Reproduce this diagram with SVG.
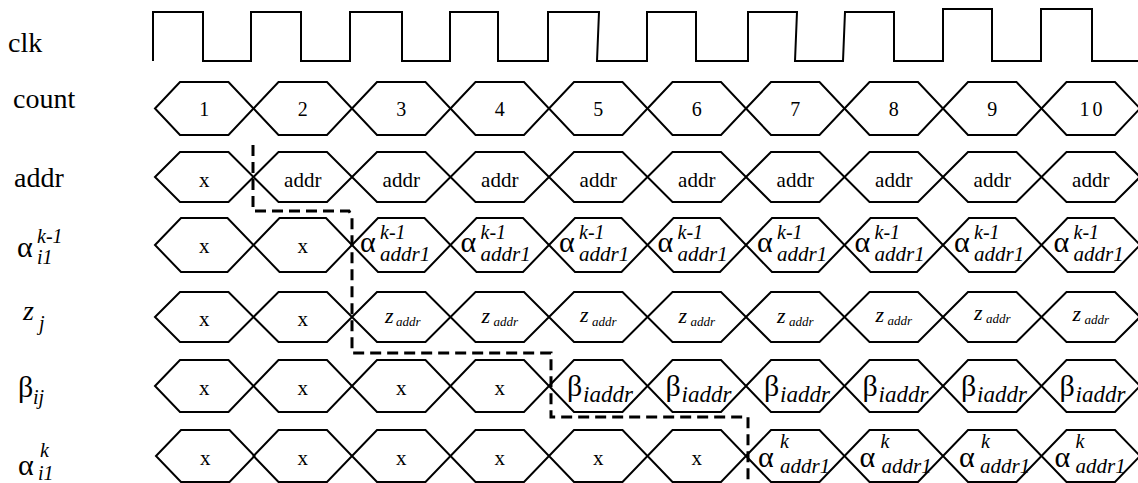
<svg xmlns="http://www.w3.org/2000/svg" xmlns:xlink="http://www.w3.org/1999/xlink" width="1138" height="483" viewBox="0 0 1138 483" font-family="Liberation Serif">
<defs>
<style>
.w{fill:none;stroke:#000;stroke-width:2}
.hex{fill:none;stroke:#000;stroke-width:2}
.dash{fill:none;stroke:#000;stroke-width:3;stroke-dasharray:11 6}
text{font-family:'Liberation Serif','Times New Roman',serif;fill:#000}
.lbl{font-size:28px}
.i{font-style:italic}
.num{font-size:20px;text-anchor:middle}
.v{font-size:21px;text-anchor:middle}
.g{font-size:30px}
.sup{font-size:20px;font-style:italic}
.sub{font-size:21px;font-style:italic}
.zs{font-size:22px;font-style:italic}
.zt{font-size:13px;font-style:italic}
.bs{font-size:23px;font-style:italic}
</style>
<polygon id="hC" class="hex" points="0,0 25,-26.5 73.5,-26.5 98.5,0 73.5,26.5 25,26.5"/>
<polygon id="hA" class="hex" points="0,0 25,-25 73.5,-25 98.5,0 73.5,25 25,25"/>
<polygon id="hK" class="hex" points="0,0 26,-27 72.5,-27 98.5,0 72.5,27 26,27"/>
<polygon id="hB" class="hex" points="0,0 25,-26 73.5,-26 98.5,0 73.5,26 25,26"/>
</defs>
<rect width="1138" height="483" fill="#fff"/>

<g id="labels">
<text class="lbl" x="8" y="52">clk</text>
<text class="lbl" x="13" y="108">count</text>
<text class="lbl" x="14" y="187">addr</text>
<g id="lbl-alpha-k1"><text class="g" x="17" y="257">α</text><text class="sup" x="37" y="243">k-1</text><text class="sup" x="37" y="264">i1</text></g>
<g id="lbl-z"><text class="lbl i" x="23" y="320">z</text><text class="sup" x="39" y="330">j</text></g>
<g id="lbl-beta"><text class="g" x="18" y="397">β</text><text class="sup" x="33" y="404">ij</text></g>
<g id="lbl-alpha-k"><text class="g" x="18" y="475">α</text><text class="sup" x="40" y="457">k</text><text class="sup" x="38" y="480">i1</text></g>
</g>

<g id="clk">
<path class="w" d="M153,61 V12 H203 V61 H251 V12 H301 V61 H350 V12 H402 V61 H450 V12 H498 V61 H548 V12 H599 L597,61 H647 V12 H696 V61 H748 V12 H797 L795,61 H843 L845,12 H894 V61 H943 V9 H992 V61 H1041 V9 H1092 V61 H1138"/>
</g>

<g id="count">
<g id="count-1" transform="translate(155,108.5)"><use xlink:href="#hC" href="#hC"/><text class="num" x="49.25" y="7.5">1</text></g>
<g id="count-2" transform="translate(253.5,108.5)"><use xlink:href="#hC" href="#hC"/><text class="num" x="49.25" y="7.5">2</text></g>
<g id="count-3" transform="translate(352,108.5)"><use xlink:href="#hC" href="#hC"/><text class="num" x="49.25" y="7.5">3</text></g>
<g id="count-4" transform="translate(450.5,108.5)"><use xlink:href="#hC" href="#hC"/><text class="num" x="49.25" y="7.5">4</text></g>
<g id="count-5" transform="translate(549,108.5)"><use xlink:href="#hC" href="#hC"/><text class="num" x="49.25" y="7.5">5</text></g>
<g id="count-6" transform="translate(647.5,108.5)"><use xlink:href="#hC" href="#hC"/><text class="num" x="49.25" y="7.5">6</text></g>
<g id="count-7" transform="translate(746,108.5)"><use xlink:href="#hC" href="#hC"/><text class="num" x="49.25" y="7.5">7</text></g>
<g id="count-8" transform="translate(844.5,108.5)"><use xlink:href="#hC" href="#hC"/><text class="num" x="49.25" y="7.5">8</text></g>
<g id="count-9" transform="translate(943,108.5)"><use xlink:href="#hC" href="#hC"/><text class="num" x="49.25" y="7.5">9</text></g>
<g id="count-10" transform="translate(1041.5,108.5)"><use xlink:href="#hC" href="#hC"/><text class="num" x="51" y="7.5" letter-spacing="3">10</text></g>
</g>

<g id="addr">
<g id="addr-1" transform="translate(155,177)"><use xlink:href="#hA" href="#hA"/><text class="v" x="49.25" y="10">x</text></g>
<g id="addr-2" transform="translate(253.5,177)"><use xlink:href="#hA" href="#hA"/><text class="v" x="49.25" y="10">addr</text></g>
<g id="addr-3" transform="translate(352,177)"><use xlink:href="#hA" href="#hA"/><text class="v" x="49.25" y="10">addr</text></g>
<g id="addr-4" transform="translate(450.5,177)"><use xlink:href="#hA" href="#hA"/><text class="v" x="49.25" y="10">addr</text></g>
<g id="addr-5" transform="translate(549,177)"><use xlink:href="#hA" href="#hA"/><text class="v" x="49.25" y="10">addr</text></g>
<g id="addr-6" transform="translate(647.5,177)"><use xlink:href="#hA" href="#hA"/><text class="v" x="49.25" y="10">addr</text></g>
<g id="addr-7" transform="translate(746,177)"><use xlink:href="#hA" href="#hA"/><text class="v" x="49.25" y="10">addr</text></g>
<g id="addr-8" transform="translate(844.5,177)"><use xlink:href="#hA" href="#hA"/><text class="v" x="49.25" y="10">addr</text></g>
<g id="addr-9" transform="translate(943,177)"><use xlink:href="#hA" href="#hA"/><text class="v" x="49.25" y="10">addr</text></g>
<g id="addr-10" transform="translate(1041.5,177)"><use xlink:href="#hA" href="#hA"/><text class="v" x="49.25" y="10">addr</text></g>
</g>

<g id="alpha-k1">
<g id="ak1-1" transform="translate(155,245)"><use xlink:href="#hK" href="#hK"/><text class="v" x="49.25" y="8">x</text></g>
<g id="ak1-2" transform="translate(253.5,245)"><use xlink:href="#hK" href="#hK"/><text class="v" x="49.25" y="8">x</text></g>
<g id="ak1-3" transform="translate(352,245)"><use xlink:href="#hK" href="#hK"/><text class="g" x="8" y="7">α</text><text class="sup" x="28" y="-6">k-1</text><text class="sub" x="28" y="16">addr1</text></g>
<g id="ak1-4" transform="translate(450.5,245)"><use xlink:href="#hK" href="#hK"/><text class="g" x="10" y="7">α</text><text class="sup" x="30" y="-6">k-1</text><text class="sub" x="30" y="16">addr1</text></g>
<g id="ak1-5" transform="translate(549,245)"><use xlink:href="#hK" href="#hK"/><text class="g" x="10" y="7">α</text><text class="sup" x="30" y="-6">k-1</text><text class="sub" x="30" y="16">addr1</text></g>
<g id="ak1-6" transform="translate(647.5,245)"><use xlink:href="#hK" href="#hK"/><text class="g" x="10" y="7">α</text><text class="sup" x="30" y="-6">k-1</text><text class="sub" x="30" y="16">addr1</text></g>
<g id="ak1-7" transform="translate(746,245)"><use xlink:href="#hK" href="#hK"/><text class="g" x="11" y="7">α</text><text class="sup" x="31" y="-6">k-1</text><text class="sub" x="31" y="16">addr1</text></g>
<g id="ak1-8" transform="translate(844.5,245)"><use xlink:href="#hK" href="#hK"/><text class="g" x="10" y="7">α</text><text class="sup" x="30" y="-6">k-1</text><text class="sub" x="30" y="16">addr1</text></g>
<g id="ak1-9" transform="translate(943,245)"><use xlink:href="#hK" href="#hK"/><text class="g" x="11" y="7">α</text><text class="sup" x="31" y="-6">k-1</text><text class="sub" x="31" y="16">addr1</text></g>
<g id="ak1-10" transform="translate(1041.5,245)"><use xlink:href="#hK" href="#hK"/><text class="g" x="12" y="7">α</text><text class="sup" x="32" y="-6">k-1</text><text class="sub" x="32" y="16">addr1</text></g>
</g>

<g id="z">
<g id="z-1" transform="translate(155,317)"><use xlink:href="#hA" href="#hA"/><text class="v" x="49.25" y="9">x</text></g>
<g id="z-2" transform="translate(253.5,317)"><use xlink:href="#hA" href="#hA"/><text class="v" x="49.25" y="9">x</text></g>
<g id="z-3" transform="translate(352,317)"><use xlink:href="#hA" href="#hA"/><text class="zs" x="33" y="6">z</text><text class="zt" x="44" y="9">addr</text></g>
<g id="z-4" transform="translate(450.5,317)"><use xlink:href="#hA" href="#hA"/><text class="zs" x="31" y="6">z</text><text class="zt" x="43" y="9">addr</text></g>
<g id="z-5" transform="translate(549,317)"><use xlink:href="#hA" href="#hA"/><text class="zs" x="31" y="5">z</text><text class="zt" x="43" y="9">addr</text></g>
<g id="z-6" transform="translate(647.5,317)"><use xlink:href="#hA" href="#hA"/><text class="zs" x="31" y="6">z</text><text class="zt" x="43" y="9">addr</text></g>
<g id="z-7" transform="translate(746,317)"><use xlink:href="#hA" href="#hA"/><text class="zs" x="31" y="6">z</text><text class="zt" x="43" y="9">addr</text></g>
<g id="z-8" transform="translate(844.5,317)"><use xlink:href="#hA" href="#hA"/><text class="zs" x="31" y="5">z</text><text class="zt" x="43" y="8">addr</text></g>
<g id="z-9" transform="translate(943,317)"><use xlink:href="#hA" href="#hA"/><text class="zs" x="31" y="3">z</text><text class="zt" x="43" y="6">addr</text></g>
<g id="z-10" transform="translate(1041.5,317)"><use xlink:href="#hA" href="#hA"/><text class="zs" x="31" y="4">z</text><text class="zt" x="43" y="7">addr</text></g>
</g>

<g id="beta">
<g id="b-1" transform="translate(155,386)"><use xlink:href="#hB" href="#hB"/><text class="v" x="49.25" y="9">x</text></g>
<g id="b-2" transform="translate(253.5,386)"><use xlink:href="#hB" href="#hB"/><text class="v" x="49.25" y="9">x</text></g>
<g id="b-3" transform="translate(352,386)"><use xlink:href="#hB" href="#hB"/><text class="v" x="49.25" y="9">x</text></g>
<g id="b-4" transform="translate(450.5,386)"><use xlink:href="#hB" href="#hB"/><text class="v" x="49.25" y="9">x</text></g>
<g id="b-5" transform="translate(549,386)"><use xlink:href="#hB" href="#hB"/><text class="g" x="18" y="10">β</text><text class="bs" x="34" y="16">iaddr</text></g>
<g id="b-6" transform="translate(647.5,386)"><use xlink:href="#hB" href="#hB"/><text class="g" x="18" y="10">β</text><text class="bs" x="34" y="16">iaddr</text></g>
<g id="b-7" transform="translate(746,386)"><use xlink:href="#hB" href="#hB"/><text class="g" x="18" y="10">β</text><text class="bs" x="34" y="16">iaddr</text></g>
<g id="b-8" transform="translate(844.5,386)"><use xlink:href="#hB" href="#hB"/><text class="g" x="18" y="10">β</text><text class="bs" x="34" y="16">iaddr</text></g>
<g id="b-9" transform="translate(943,386)"><use xlink:href="#hB" href="#hB"/><text class="g" x="18" y="10">β</text><text class="bs" x="34" y="16">iaddr</text></g>
<g id="b-10" transform="translate(1041.5,386)"><use xlink:href="#hB" href="#hB"/><text class="g" x="18" y="10">β</text><text class="bs" x="34" y="16">iaddr</text></g>
</g>

<g id="alpha-k">
<g id="ak-1" transform="translate(156,456)"><use xlink:href="#hB" href="#hB"/><text class="v" x="49.25" y="9">x</text></g>
<g id="ak-2" transform="translate(253.5,456)"><use xlink:href="#hB" href="#hB"/><text class="v" x="49.25" y="9">x</text></g>
<g id="ak-3" transform="translate(352,456)"><use xlink:href="#hB" href="#hB"/><text class="v" x="49.25" y="9">x</text></g>
<g id="ak-4" transform="translate(450.5,456)"><use xlink:href="#hB" href="#hB"/><text class="v" x="49.25" y="9">x</text></g>
<g id="ak-5" transform="translate(549,456)"><use xlink:href="#hB" href="#hB"/><text class="v" x="49.25" y="9">x</text></g>
<g id="ak-6" transform="translate(647.5,456)"><use xlink:href="#hB" href="#hB"/><text class="v" x="49.25" y="9">x</text></g>
<g id="ak-7" transform="translate(746,456)"><use xlink:href="#hB" href="#hB"/><text class="g" x="12" y="11">α</text><text class="sup" x="34" y="-8">k</text><text class="sub" x="34" y="17">addr1</text></g>
<g id="ak-8" transform="translate(844.5,456)"><use xlink:href="#hB" href="#hB"/><text class="g" x="15" y="11">α</text><text class="sup" x="36" y="-8">k</text><text class="sub" x="37" y="17">addr1</text></g>
<g id="ak-9" transform="translate(943,456)"><use xlink:href="#hB" href="#hB"/><text class="g" x="16" y="11">α</text><text class="sup" x="38" y="-8">k</text><text class="sub" x="37" y="17">addr1</text></g>
<g id="ak-10" transform="translate(1041.5,456)"><use xlink:href="#hB" href="#hB"/><text class="g" x="13" y="11">α</text><text class="sup" x="34" y="-8">k</text><text class="sub" x="34" y="17">addr1</text></g>
</g>

<g id="connectors">
<path class="dash" d="M253,145 V211 H349 L352,216 V353 H551 V417 H748 V483"/>
</g>
</svg>
